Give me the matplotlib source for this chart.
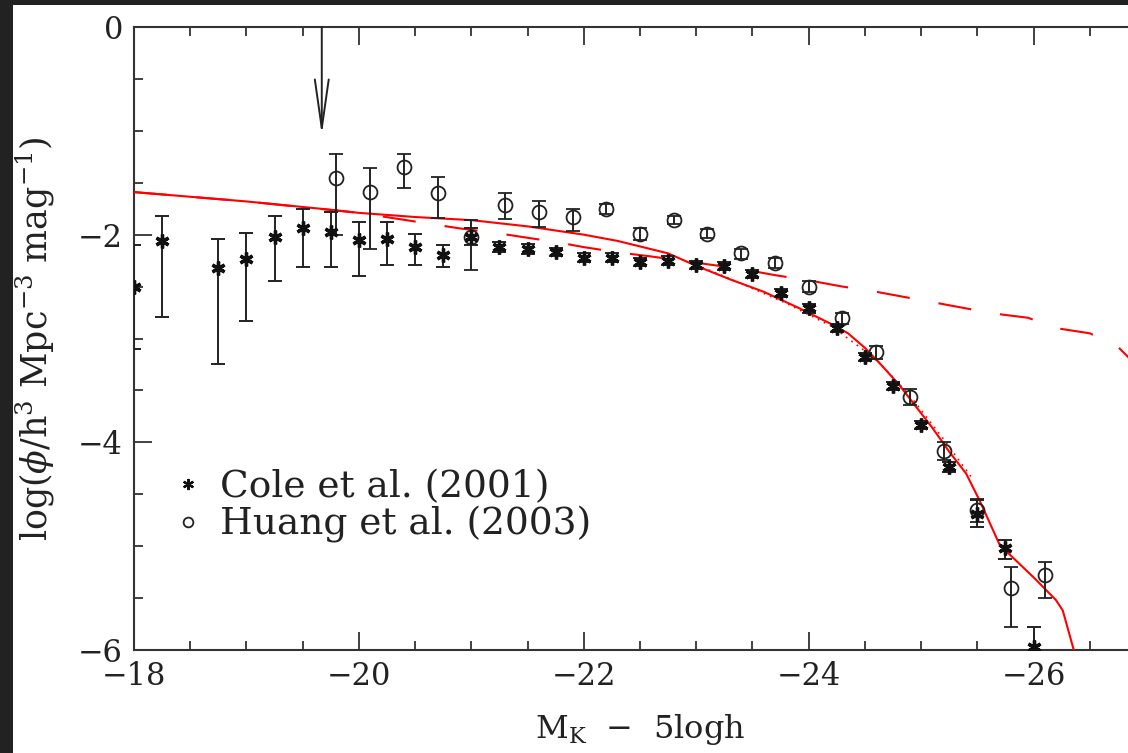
import matplotlib
matplotlib.use("Agg")
from matplotlib import pyplot as plt
from matplotlib.lines import Line2D
from matplotlib.patches import Rectangle
from matplotlib.ticker import MultipleLocator

# K-band luminosity function: Cole et al. (2001)
cole_mag = [-18.0, -18.25, -18.75, -19.0, -19.25, -19.5, -19.75, -20.0,
            -20.25, -20.5, -20.75, -21.0, -21.25, -21.5, -21.75, -22.0,
            -22.25, -22.5, -22.75, -23.0, -23.25, -23.5, -23.75, -24.0,
            -24.25, -24.5, -24.75, -25.0, -25.25, -25.5, -25.75, -26.0]
cole_phi = [-2.50, -2.06, -2.32, -2.23, -2.02, -1.94, -1.97, -2.05,
            -2.04, -2.12, -2.20, -2.02, -2.12, -2.14, -2.17, -2.22,
            -2.22, -2.26, -2.25, -2.29, -2.30, -2.38, -2.56, -2.71,
            -2.90, -3.18, -3.46, -3.83, -4.24, -4.69, -5.02, -5.97]
cole_up = [0.40, 0.24, 0.28, 0.25, 0.20, 0.19, 0.19, 0.17,
           0.16, 0.13, 0.10, 0.08, 0.05, 0.05, 0.04, 0.04,
           0.04, 0.04, 0.04, 0.04, 0.04, 0.04, 0.04, 0.04,
           0.04, 0.04, 0.04, 0.04, 0.05, 0.13, 0.08, 0.19]
cole_lo = [0.60, 0.73, 0.93, 0.60, 0.43, 0.37, 0.34, 0.35,
           0.25, 0.17, 0.11, 0.08, 0.05, 0.05, 0.04, 0.04,
           0.04, 0.04, 0.04, 0.04, 0.04, 0.04, 0.04, 0.04,
           0.04, 0.04, 0.04, 0.04, 0.05, 0.13, 0.10, 0.30]

# Huang et al. (2003)
huang_mag = [-19.8, -20.1, -20.4, -20.7, -21.0, -21.3, -21.6, -21.9,
             -22.2, -22.5, -22.8, -23.1, -23.4, -23.7, -24.0, -24.3,
             -24.6, -24.9, -25.2, -25.5, -25.8, -26.1]
huang_phi = [-1.45, -1.59, -1.35, -1.60, -2.02, -1.71, -1.78, -1.83,
             -1.75, -1.99, -1.86, -1.99, -2.18, -2.27, -2.50, -2.80,
             -3.13, -3.56, -4.08, -4.65, -5.40, -5.28]
huang_up = [0.23, 0.23, 0.13, 0.16, 0.16, 0.11, 0.10, 0.08,
            0.05, 0.05, 0.04, 0.04, 0.04, 0.05, 0.05, 0.05,
            0.06, 0.07, 0.08, 0.10, 0.20, 0.13]
huang_lo = [0.55, 0.55, 0.20, 0.24, 0.32, 0.14, 0.15, 0.13,
            0.05, 0.06, 0.04, 0.04, 0.05, 0.05, 0.05, 0.06,
            0.07, 0.08, 0.09, 0.12, 0.38, 0.22]

# model curves
model_mag = [-18.0, -19.0, -19.75, -20.0, -20.5, -21.0, -21.5, -22.0,
             -22.3, -22.75, -23.0, -23.3, -23.6, -23.9, -24.2, -24.35,
             -24.5, -24.65, -24.8, -24.95, -25.1, -25.25, -25.4, -25.52,
             -25.7, -26.0, -26.2, -26.26, -26.35, -26.45]
model_phi = [-1.59, -1.68, -1.76, -1.79, -1.83, -1.86, -1.92, -2.00,
             -2.06, -2.18, -2.30, -2.43, -2.55, -2.70, -2.86, -2.95,
             -3.09, -3.26, -3.44, -3.65, -3.86, -4.09, -4.30, -4.56,
             -4.99, -5.30, -5.52, -5.62, -5.97, -6.40]

nofb_mag = [-18.0, -19.0, -20.0, -20.3, -20.6, -20.9, -21.2, -21.5,
            -21.75, -22.0, -22.3, -22.6, -23.0, -23.4, -23.7, -24.0,
            -24.3, -24.5, -24.85, -25.2, -25.65, -25.95, -26.2, -26.5,
            -26.75, -27.0]
nofb_phi = [-1.59, -1.68, -1.79, -1.84, -1.89, -1.94, -1.98, -2.03,
            -2.07, -2.12, -2.17, -2.21, -2.27, -2.33, -2.39, -2.44,
            -2.50, -2.53, -2.60, -2.67, -2.76, -2.80, -2.90, -2.95,
            -3.08, -3.35]

alt_mag = [-23.0, -23.4, -23.8, -24.2, -24.6, -24.9, -25.2, -25.45]
alt_phi = [-2.29, -2.47, -2.66, -2.88, -3.20, -3.55, -3.97, -4.34]

arrow_mag = -19.67

plt.rcParams["font.family"] = "DejaVu Serif"
plt.rcParams["mathtext.fontset"] = "dejavuserif"

fig = plt.figure(figsize=(11.28, 7.53), dpi=100, facecolor="white")
# dark frame of the screenshot (top and left bands)
fig.patches.append(Rectangle((0, 748 / 753), 1, 5 / 753, transform=fig.transFigure,
                             facecolor="#222222", edgecolor="none", zorder=10))
fig.patches.append(Rectangle((0, 0), 13 / 1128, 1, transform=fig.transFigure,
                             facecolor="#222222", edgecolor="none", zorder=10))
ax = fig.add_axes([134 / 1128, 103 / 753, 1012 / 1128, 623 / 753])

asterisk = (6, 2, 0)
ax.plot(model_mag, model_phi, color="red", lw=1.5, zorder=3)
ax.plot(nofb_mag, nofb_phi, color="red", lw=1.5, dashes=(16, 14), zorder=3)
ax.plot(alt_mag, alt_phi, color="red", lw=1.2, ls=(0, (1, 3)), zorder=3)

ax.errorbar(cole_mag, cole_phi, yerr=[cole_lo, cole_up], fmt="none",
            ecolor="#222222", elinewidth=1.4, capsize=5, capthick=1.4, zorder=4)
ax.plot(cole_mag, cole_phi, ls="none", marker=asterisk, ms=10, mew=2.4,
        color="#111111", zorder=5)
ax.errorbar(huang_mag, huang_phi, yerr=[huang_lo, huang_up], fmt="o",
            ms=10, mfc="none", mec="#222222", mew=1.3,
            ecolor="#222222", elinewidth=1.4, capsize=5, capthick=1.4, zorder=4)

ax.annotate("", xy=(arrow_mag, -1.04), xytext=(arrow_mag, 0.0),
            arrowprops=dict(arrowstyle="->,head_length=3.5,head_width=0.5",
                            color="#222222", lw=1.4, shrinkA=0, shrinkB=0,
                            mutation_scale=10))

ax.set_xlim(-18, -27)
ax.set_ylim(-6, 0)
ax.xaxis.set_major_locator(MultipleLocator(2))
ax.xaxis.set_minor_locator(MultipleLocator(0.5))
ax.yaxis.set_major_locator(MultipleLocator(2))
ax.yaxis.set_minor_locator(MultipleLocator(0.5))
ax.tick_params(which="both", direction="in", top=True, right=True,
               color="#333333", width=1.3)
ax.tick_params(which="major", length=13, labelsize=22, pad=8, labelcolor="#222222")
ax.tick_params(which="minor", length=6.5)
for s in ax.spines.values():
    s.set_linewidth(1.5)
    s.set_color("#333333")

ax.set_xlabel(r"M$_{\rm K}$  $-$  5logh", fontsize=23, color="#222222", labelpad=14)
ax.set_ylabel(r"log($\phi$/h$^3$ Mpc$^{-3}$ mag$^{-1}$)", fontsize=25,
              color="#222222", labelpad=15)

handles = [Line2D([], [], ls="none", marker=asterisk, ms=8, mew=1.6, color="#111111"),
           Line2D([], [], ls="none", marker="o", ms=7, mfc="none", mec="#222222", mew=1.3)]
ax.legend(handles, ["Cole et al. (2001)", "Huang et al. (2003)"], loc="upper left",
          bbox_to_anchor=(0.02, 0.32), frameon=False, fontsize=27,
          handlelength=0.8, handletextpad=0.45, labelspacing=0.02, borderpad=0,
          labelcolor="#222222")

fig.savefig("out.png", dpi=100)
